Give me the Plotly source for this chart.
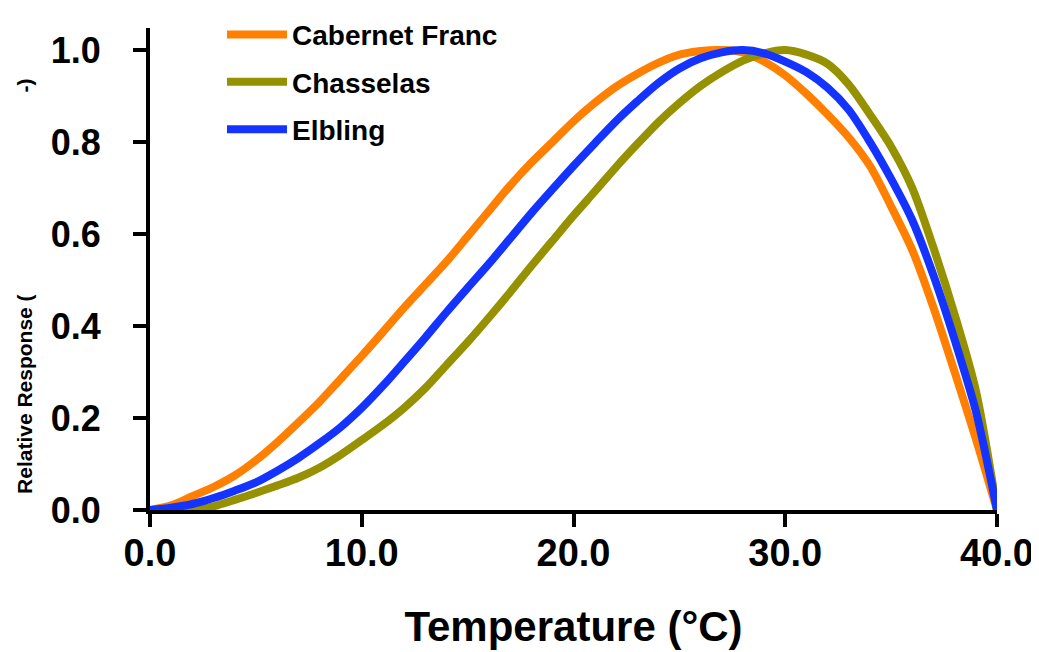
import plotly.graph_objects as go

temperature = list(range(0, 41))

cabernet_franc = [0.0, 0.01, 0.03, 0.05, 0.075, 0.108, 0.147, 0.19, 0.235, 0.285,
                  0.335, 0.387, 0.44, 0.49, 0.54, 0.595, 0.65, 0.705, 0.755, 0.80,
                  0.845, 0.885, 0.92, 0.948, 0.972, 0.99, 0.998, 1.0, 0.995, 0.975,
                  0.945, 0.905, 0.86, 0.81, 0.748, 0.66, 0.565, 0.44, 0.30, 0.155, 0.0]

chasselas = [0.0, 0.0, 0.0, 0.008, 0.022, 0.037, 0.053, 0.07, 0.092, 0.12,
             0.152, 0.185, 0.222, 0.265, 0.315, 0.365, 0.418, 0.473, 0.53, 0.585,
             0.64, 0.692, 0.745, 0.795, 0.843, 0.885, 0.922, 0.952, 0.977, 0.993,
             1.0, 0.99, 0.97, 0.925, 0.86, 0.79, 0.70, 0.57, 0.425, 0.26, 0.0]

elbling = [0.0, 0.005, 0.013, 0.026, 0.042, 0.06, 0.085, 0.113, 0.145, 0.18,
           0.222, 0.27, 0.322, 0.375, 0.43, 0.483, 0.535, 0.59, 0.645, 0.697,
           0.748, 0.797, 0.845, 0.888, 0.928, 0.96, 0.982, 0.995, 1.0, 0.993,
           0.975, 0.952, 0.918, 0.87, 0.80, 0.72, 0.63, 0.51, 0.37, 0.215, 0.0]

series_names = ["Cabernet Franc", "Chasselas", "Elbling"]
series_values = [cabernet_franc, chasselas, elbling]
series_colors = ["#FF8000", "#969100", "#1433FF"]

x_ticks = [0, 10, 20, 30, 40]
y_ticks = [0, 0.2, 0.4, 0.6, 0.8, 1.0]

FONT = "Liberation Sans, Arial, sans-serif"

fig = go.Figure()
for i, (name, vals, col) in enumerate(zip(series_names, series_values, series_colors)):
    fig.add_trace(go.Scatter(
        x=temperature, y=vals, mode="lines", name=name,
        legendgroup=f"g{i}",
        line=dict(color=col, width=8, shape="spline", smoothing=0.8),
    ))

# page body has an 8px margin, so the figure is sized/offset to compensate
fig.update_layout(
    width=1031, height=644,
    margin=dict(l=142, r=42, t=2, b=142),
    paper_bgcolor="white", plot_bgcolor="white",
    font=dict(family=FONT, color="black"),
    showlegend=True,
    legend=dict(
        x=0.085, y=1.038, xanchor="left", yanchor="top",
        font=dict(family=FONT, size=28, color="black", weight="bold"),
        bgcolor="rgba(0,0,0,0)", tracegroupgap=8, itemwidth=60,
    ),
    xaxis=dict(
        range=[0, 40], tickvals=x_ticks, tickformat=".1f",
        automargin=False,
        showline=True, linecolor="black", linewidth=4,
        ticks="outside", ticklen=13, tickwidth=4, tickcolor="black",
        showgrid=False, zeroline=False,
        tickfont=dict(family=FONT, size=38, color="black", weight="bold"),
        ticklabelstandoff=-7,
        title=dict(text="Temperature (°C)", standoff=40,
                   font=dict(family=FONT, size=42, color="black", weight="bold")),
    ),
    yaxis=dict(
        range=[0, 1.048], tickvals=y_ticks, tickformat=".1f",
        automargin=False,
        showline=True, linecolor="black", linewidth=4,
        ticks="outside", ticklen=13, tickwidth=4, tickcolor="black",
        showgrid=False, zeroline=False,
        tickfont=dict(family=FONT, size=36, color="black", weight="bold"),
        ticklabelstandoff=25,
    ),
    annotations=[
        dict(text="Relative Response (", xref="paper", yref="paper",
             x=-0.148, y=0.24, xanchor="center", yanchor="middle", textangle=-90,
             showarrow=False,
             font=dict(family=FONT, size=21, color="black", weight="bold")),
        dict(text="-)", xref="paper", yref="paper",
             x=-0.148, y=0.88, xanchor="center", yanchor="middle", textangle=-90,
             showarrow=False,
             font=dict(family=FONT, size=21, color="black", weight="bold")),
    ],
)

fig.write_html("out.html")
